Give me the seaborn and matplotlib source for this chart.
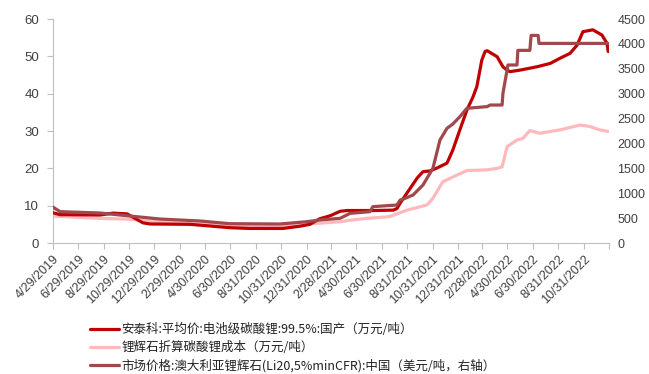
import matplotlib
matplotlib.use("Agg")
import matplotlib.pyplot as plt
import pandas as pd
import seaborn as sns

# 安泰科 电池级碳酸锂均价（万元/吨）
carb_dates = ["2019-04-29", "2019-05-16", "2019-08-20", "2019-09-21", "2019-10-25",
              "2019-12-02", "2019-12-19", "2020-03-25", "2020-06-29", "2020-08-16",
              "2020-11-04", "2020-12-15", "2021-01-08", "2021-02-01", "2021-02-26",
              "2021-03-22", "2021-04-08", "2021-06-09", "2021-07-28", "2021-08-06",
              "2021-08-14", "2021-09-24", "2021-10-08", "2021-10-25", "2021-11-11",
              "2021-12-05", "2021-12-19", "2022-01-05", "2022-01-22", "2022-02-06",
              "2022-02-15", "2022-02-27", "2022-03-07", "2022-03-12", "2022-04-05",
              "2022-04-19", "2022-04-29", "2022-05-06", "2022-05-30", "2022-07-10",
              "2022-08-11", "2022-09-04", "2022-09-28", "2022-10-15", "2022-10-29",
              "2022-11-22", "2022-12-14", "2022-12-26", "2022-12-29"]
carb_vals = [8.1, 7.6, 7.5, 8.0, 7.8,
             5.4, 5.1, 5.0, 4.1, 3.9,
             3.9, 4.5, 5.0, 6.5, 7.3,
             8.5, 8.7, 8.7, 8.8, 9.2,
             10.7, 17.4, 19.1, 19.3, 20.1,
             21.4, 24.9, 30.3, 35.6, 39.2,
             41.9, 49.0, 51.3, 51.5, 49.9,
             47.2, 46.3, 45.9, 46.3, 47.2,
             48.1, 49.5, 50.8, 53.0, 56.6,
             57.1, 55.7, 53.5, 51.3]

# 锂辉石折算碳酸锂成本（万元/吨）
cost_dates = ["2019-04-29", "2019-08-20", "2019-10-25", "2019-12-19", "2020-03-25",
              "2020-08-16", "2020-11-04", "2020-12-15", "2021-02-01", "2021-03-22",
              "2021-04-22", "2021-05-26", "2021-07-13", "2021-07-20", "2021-08-30",
              "2021-10-01", "2021-10-18", "2021-11-01", "2021-11-25", "2021-12-29",
              "2022-01-22", "2022-03-12", "2022-04-05", "2022-04-17", "2022-04-29",
              "2022-05-23", "2022-06-06", "2022-06-23", "2022-07-17", "2022-09-04",
              "2022-10-22", "2022-11-15", "2022-12-09", "2022-12-29"]
cost_vals = [7.2, 6.6, 6.4, 5.9, 5.2,
             4.6, 4.6, 5.1, 5.3, 5.7,
             6.2, 6.6, 7.0, 7.1, 8.8,
             9.7, 10.2, 12.0, 16.4, 18.2,
             19.4, 19.6, 20.0, 20.4, 25.8,
             27.6, 28.0, 30.1, 29.4, 30.3,
             31.6, 31.2, 30.3, 29.9]

# 澳大利亚锂辉石 CFR 中国（美元/吨）
spod_dates = ["2019-04-29", "2019-05-16", "2019-08-20", "2019-11-01", "2020-01-12",
              "2020-04-18", "2020-06-29", "2020-10-28", "2021-01-01", "2021-02-01",
              "2021-03-22", "2021-04-15", "2021-06-02", "2021-06-09", "2021-08-06",
              "2021-08-14", "2021-08-21", "2021-09-14", "2021-10-08", "2021-11-01",
              "2021-11-18", "2021-12-05", "2021-12-19", "2022-01-05", "2022-01-22",
              "2022-03-12", "2022-03-19", "2022-04-17", "2022-04-19", "2022-04-29",
              "2022-05-01", "2022-05-23", "2022-05-25", "2022-06-23", "2022-06-26",
              "2022-07-13", "2022-07-15", "2022-12-29"]
spod_vals = [720, 630, 603, 542, 482,
             442, 388, 382, 428, 462,
             496, 596, 629, 730, 763,
             864, 880, 964, 1165, 1500,
             2069, 2304, 2390, 2537, 2706,
             2740, 2772, 2772, 3007, 3476,
             3576, 3576, 3870, 3870, 4170,
             4170, 4010, 4010]

tick_dates = ["2019-04-29", "2019-06-29", "2019-08-29", "2019-10-29", "2019-12-29",
              "2020-02-29", "2020-04-30", "2020-06-30", "2020-08-31", "2020-10-31",
              "2020-12-31", "2021-02-28", "2021-04-30", "2021-06-30", "2021-08-31",
              "2021-10-31", "2021-12-31", "2022-02-28", "2022-04-30", "2022-06-30",
              "2022-08-31", "2022-10-31", "2022-12-31"]
tick_labels = ["4/29/2019", "6/29/2019", "8/29/2019", "10/29/2019", "12/29/2019",
               "2/29/2020", "4/30/2020", "6/30/2020", "8/31/2020", "10/31/2020",
               "12/31/2020", "2/28/2021", "4/30/2021", "6/30/2021", "8/31/2021",
               "10/31/2021", "12/31/2021", "2/28/2022", "4/30/2022", "6/30/2022",
               "8/31/2022", "10/31/2022", ""]

names = ["安泰科:平均价:电池级碳酸锂:99.5%:国产（万元/吨）",
         "锂辉石折算碳酸锂成本（万元/吨）",
         "市场价格:澳大利亚锂辉石(Li20,5%minCFR):中国（美元/吨，右轴）"]
colors = ["#C00000", "#FFB9BD", "#A0484B"]

sns.set_style("white")
plt.rcParams["font.family"] = ["Liberation Sans", "Noto Sans CJK SC", "DejaVu Sans"]

carb = pd.DataFrame({"date": pd.to_datetime(carb_dates), "value": carb_vals})
cost = pd.DataFrame({"date": pd.to_datetime(cost_dates), "value": cost_vals})
spod = pd.DataFrame({"date": pd.to_datetime(spod_dates), "value": spod_vals})

fig = plt.figure(figsize=(6.49, 3.74), dpi=100)
ax = fig.add_axes([53 / 649, 1 - 243 / 374, (609 - 53) / 649, (243 - 19) / 374])
ax2 = ax.twinx()

lw = 2.3
sns.lineplot(data=carb, x="date", y="value", ax=ax, color=colors[0], lw=lw, label=names[0], legend=False, zorder=3)
sns.lineplot(data=cost, x="date", y="value", ax=ax, color=colors[1], lw=lw, label=names[1], legend=False, zorder=2)
sns.lineplot(data=spod, x="date", y="value", ax=ax2, color=colors[2], lw=lw, label=names[2], legend=False, zorder=3)

ax.set_xlim(pd.Timestamp("2019-04-29"), pd.Timestamp("2022-12-31"))
ax.set_ylim(0, 60)
ax2.set_ylim(0, 4500)
ax.set_yticks(range(0, 61, 10))
ax2.set_yticks(range(0, 4501, 500))
ax.set_xticks(pd.to_datetime(tick_dates))
ax.set_xticklabels(tick_labels, rotation=45, ha="right", rotation_mode="anchor")
ax.set_xlabel("")
ax.set_ylabel("")
ax2.set_ylabel("")

grey = "#BFBFBF"
txt = "#404040"
for a in (ax, ax2):
    for s in ("top", "right", "left", "bottom"):
        a.spines[s].set_visible(False)
ax.spines["left"].set_visible(True)
ax.spines["bottom"].set_visible(True)
ax.spines["left"].set_color(grey)
ax.spines["bottom"].set_color(grey)
ax.tick_params(axis="y", which="both", left=True, length=4, color=grey, labelsize=9.5, labelcolor=txt, pad=6)
ax.tick_params(axis="x", which="both", bottom=True, length=4, color=grey, labelsize=9, labelcolor=txt, pad=3)
ax2.tick_params(axis="y", right=False, length=0, labelsize=9, labelcolor=txt, pad=6)

handles = ax.get_lines()[:2] + ax2.get_lines()[:1]
fig.legend(handles, names, loc="upper left", bbox_to_anchor=(85 / 649, 1 - 318 / 374),
           frameon=False, prop={"family": ["Noto Sans CJK SC", "DejaVu Sans"], "size": 9},
           handlelength=2.3, handletextpad=0.2, labelspacing=0.4, borderaxespad=0,
           labelcolor="#222222")

fig.savefig("out.png", dpi=100)
